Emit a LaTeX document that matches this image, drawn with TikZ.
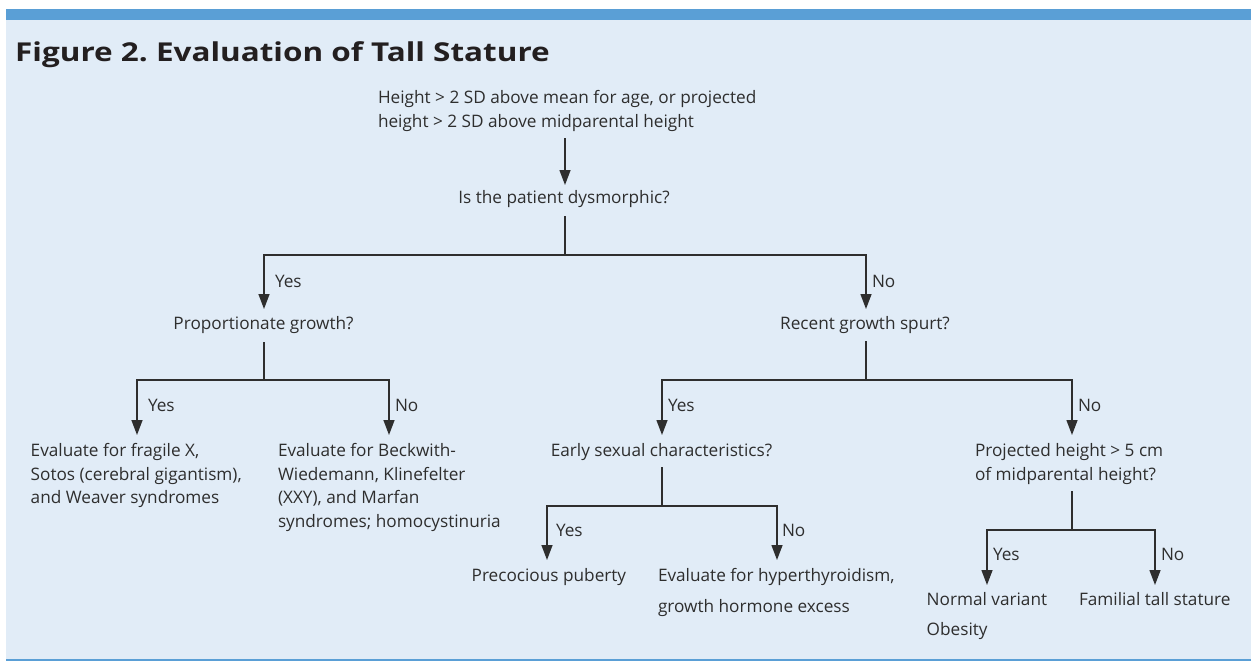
\documentclass[tikz,border=0pt]{standalone}
\usepackage{fontspec}
\setmainfont{Open Sans}
\newfontfamily\titlefont[FakeStretch=1.21]{Open Sans}
\usetikzlibrary{arrows.meta}
\definecolor{panel}{HTML}{E1ECF7}
\definecolor{bar}{HTML}{5A9FD6}
\definecolor{ink}{HTML}{2E2E2E}
\definecolor{titleink}{HTML}{231F20}
\begin{document}
\frenchspacing
\begin{tikzpicture}[x=1pt,y=-1pt,
  txt/.style={font=\fontsize{17.2}{23.6}\selectfont, text=ink, inner sep=0pt, outer sep=0pt, align=left},
  lbl/.style={txt, anchor=base west},
  ln/.style={draw=ink, line width=1.4pt},
  arr/.style={ln, -{Triangle[length=15pt,width=11pt]}}]
\useasboundingbox (0,0) rectangle (1251,661);
\fill[white] (0,0) rectangle (1251,661);
\fill[panel] (6,19) rectangle (1251,659);
\fill[bar] (6,9.3) rectangle (1251,19.7);
\fill[bar] (6,659) rectangle (1251,661);
\node[anchor=base west, inner sep=0pt, text=titleink, font=\titlefont\fontsize{26}{30}\selectfont\bfseries] (title) at (15,61.7) {Figure 2. Evaluation of Tall Stature};
% nodes (multi-line nodes are placed by the baseline of their last line)
\node[lbl] (start) at (378,127) {Height > 2 SD above mean for age, or projected\\height > 2 SD above midparental height};
\node[txt, anchor=base] (dys) at (564,203) {Is the patient dysmorphic?};
\node[txt, anchor=base] (prop) at (263.5,329) {Proportionate growth?};
\node[txt, anchor=base] (rec) at (865,329) {Recent growth spurt?};
\node[lbl] (fragile) at (30.7,503.7) {Evaluate for fragile X,\\Sotos (cerebral gigantism),\\and Weaver syndromes};
\node[lbl] (beck) at (278,527.5) {Evaluate for Beckwith-\\Wiedemann, Klinefelter\\(XXY), and Marfan\\syndromes; homocystinuria};
\node[txt, anchor=base] (early) at (661.5,456.5) {Early sexual characteristics?};
\node[lbl] (proj) at (975,480) {Projected height > 5 cm\\of midparental height?};
\node[lbl] (prec) at (471.7,581.7) {Precocious puberty};
\node[lbl] (hyper) at (658,612.7) {Evaluate for hyperthyroidism,\\[7.4pt]growth hormone excess};
\node[lbl] (normal) at (926.7,635) {Normal variant\\[6.4pt]Obesity};
\node[lbl] (familial) at (1079,605) {Familial tall stature};
% coordinates
\coordinate (s0) at (565,138);
\coordinate (t0) at (565,185);
\coordinate (d0) at (565,216);
\coordinate (j1) at (565,255);
\coordinate (t1a) at (264,309);
\coordinate (t1b) at (866,309);
\coordinate (p0) at (264,342);
\coordinate (j2a) at (264,380);
\coordinate (t2a) at (137,435);
\coordinate (t2b) at (389,435);
\coordinate (r0) at (866,341);
\coordinate (j2b) at (866,380);
\coordinate (t2c) at (662,435);
\coordinate (t2d) at (1072,435);
\coordinate (e0) at (662,467);
\coordinate (j3a) at (662,506);
\coordinate (t3a) at (547,560);
\coordinate (t3b) at (777,560);
\coordinate (q0) at (1072,491);
\coordinate (j3b) at (1072,530);
\coordinate (t3c) at (987,585);
\coordinate (t3d) at (1155,585);
% connectors
\draw[arr] (s0) -- (t0);
\draw[ln] (d0) -- (j1);
\draw[arr] (j1) -| (t1a);
\draw[arr] (j1) -| (t1b);
\draw[ln] (p0) -- (j2a);
\draw[arr] (j2a) -| (t2a);
\draw[arr] (j2a) -| (t2b);
\draw[ln] (r0) -- (j2b);
\draw[arr] (j2b) -| (t2c);
\draw[arr] (j2b) -| (t2d);
\draw[ln] (e0) -- (j3a);
\draw[arr] (j3a) -| (t3a);
\draw[arr] (j3a) -| (t3b);
\draw[ln] (q0) -- (j3b);
\draw[arr] (j3b) -| (t3c);
\draw[arr] (j3b) -| (t3d);
% labels
\node[lbl] (y1) at (275,287) {Yes};
\node[lbl] (n1) at (872,287) {No};
\node[lbl] (y2a) at (148,411.7) {Yes};
\node[lbl] (n2a) at (395,411.7) {No};
\node[lbl] (y2b) at (668,411.7) {Yes};
\node[lbl] (n2b) at (1078,411.7) {No};
\node[lbl] (y3a) at (556,536.7) {Yes};
\node[lbl] (n3a) at (782,536.7) {No};
\node[lbl] (y3b) at (993,560.7) {Yes};
\node[lbl] (n3b) at (1161,560.7) {No};
\end{tikzpicture}
\end{document}
